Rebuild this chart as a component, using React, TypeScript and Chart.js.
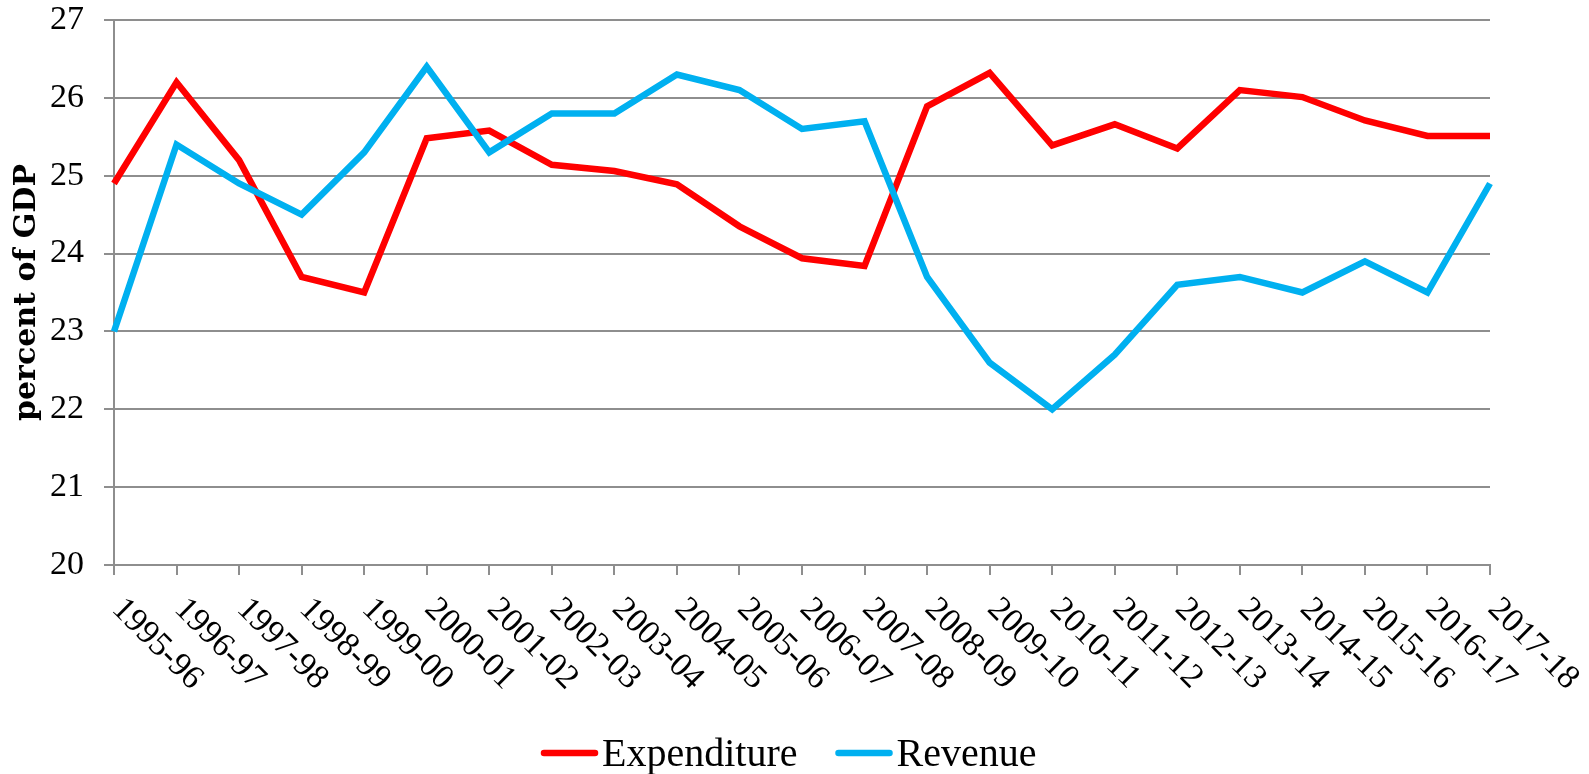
import { useEffect, useRef } from "react";
import { Chart, registerables } from "chart.js";

Chart.register(...registerables);

const categories = [
  "1995-96", "1996-97", "1997-98", "1998-99", "1999-00", "2000-01", "2001-02",
  "2002-03", "2003-04", "2004-05", "2005-06", "2006-07", "2007-08", "2008-09",
  "2009-10", "2010-11", "2011-12", "2012-13", "2013-14", "2014-15", "2015-16",
  "2016-17", "2017-18",
];
const expenditure = [
  24.9, 26.2, 25.2, 23.7, 23.5, 25.48, 25.58, 25.14, 25.06, 24.89, 24.35, 23.94,
  23.84, 25.89, 26.32, 25.39, 25.66, 25.35, 26.1, 26.01, 25.71, 25.51, 25.51,
];
const revenue = [
  23.0, 25.4, 24.9, 24.5, 25.3, 26.4, 25.3, 25.8, 25.8, 26.3, 26.1, 25.6, 25.7,
  23.7, 22.6, 22.0, 22.7, 23.6, 23.7, 23.5, 23.9, 23.5, 24.9,
];
const seriesNames = ["Expenditure", "Revenue"];
const seriesColors = ["#FF0000", "#00B0F0"];
const yMin = 20;
const yMax = 27;
const yStep = 1;
const yTitle = "percent of GDP";

const GRID = "#8e8e8e";

const xLabelPlugin = {
  id: "xLabels",
  afterDraw(chart: any) {
    const xs = chart.scales.x;
    const ctx = chart.ctx;
    ctx.save();
    ctx.font = '34px "Liberation Serif"';
    ctx.fillStyle = "#000";
    ctx.textAlign = "left";
    ctx.textBaseline = "middle";
    categories.forEach((lab, i) => {
      const x = xs.getPixelForTick(i);
      ctx.save();
      ctx.translate(x + 3, xs.top + 39);
      ctx.rotate(Math.PI / 4);
      ctx.fillText(lab, 0, 0);
      ctx.restore();
    });
    ctx.restore();
  },
};

const legendPlugin = {
  id: "manualLegend",
  afterDraw(chart: any) {
    const ctx = chart.ctx;
    ctx.save();
    ctx.font = '40px "Liberation Serif"';
    ctx.textBaseline = "alphabetic";
    ctx.textAlign = "left";
    const lineLen = 57;
    const gapText = 4;
    const gapItems = 38;
    let x = 541;
    const lineY = 753;
    const baseY = 766;
    seriesNames.forEach((name, i) => {
      ctx.strokeStyle = seriesColors[i];
      ctx.lineWidth = 6.5;
      ctx.lineCap = "round";
      ctx.beginPath();
      ctx.moveTo(x + 3, lineY);
      ctx.lineTo(x + lineLen - 3, lineY);
      ctx.stroke();
      ctx.fillStyle = "#000";
      const tx = x + lineLen + gapText;
      ctx.fillText(name, tx, baseY);
      x = tx + ctx.measureText(name).width + gapItems;
    });
    ctx.restore();
  },
};

export default function App() {
  const ref = useRef<HTMLCanvasElement | null>(null);

  useEffect(() => {
    document.body.style.margin = "0";
    const canvas = ref.current;
    if (!canvas) return;
    const chart = new Chart(canvas, {
      type: "line",
      data: {
        labels: categories,
        datasets: [
          {
            label: seriesNames[0],
            data: expenditure,
            borderColor: seriesColors[0],
            backgroundColor: seriesColors[0],
            borderWidth: 6.5,
            pointRadius: 0,
            tension: 0,
            order: 1,
          },
          {
            label: seriesNames[1],
            data: revenue,
            borderColor: seriesColors[1],
            backgroundColor: seriesColors[1],
            borderWidth: 6.5,
            pointRadius: 0,
            tension: 0,
            order: 0,
          },
        ],
      },
      options: {
        responsive: false,
        animation: false,
        devicePixelRatio: 1,
        layout: { padding: { top: 20, right: 99, bottom: 0, left: 0 } },
        plugins: {
          legend: { display: false },
          tooltip: { enabled: false },
          title: { display: false },
        },
        scales: {
          x: {
            type: "category",
            offset: false,
            grid: {
              drawOnChartArea: false,
              drawTicks: true,
              tickLength: 10,
              color: GRID,
              lineWidth: 2,
            },
            border: { display: true, color: GRID, width: 2 },
            ticks: { display: false },
            afterFit(scale: any) {
              scale.height = 209;
              scale.paddingLeft = 0;
              scale.paddingRight = 0;
            },
          },
          y: {
            min: yMin,
            max: yMax,
            grid: {
              color: GRID,
              lineWidth: 2,
              drawTicks: true,
              tickLength: 10,
            },
            border: { display: true, color: GRID, width: 2 },
            ticks: {
              stepSize: yStep,
              padding: 20,
              color: "#000",
              font: { family: '"Liberation Serif"', size: 34 },
            },
            title: {
              display: true,
              text: yTitle,
              color: "#000",
              font: { family: '"DejaVu Serif"', size: 30, weight: "bold" },
              padding: { top: 9, bottom: 0 },
            },
            afterFit(scale: any) {
              scale.width = 114;
              scale.paddingTop = 0;
              scale.paddingBottom = 0;
            },
          },
        },
      },
      plugins: [xLabelPlugin, legendPlugin],
    });
    return () => chart.destroy();
  }, []);

  return <canvas ref={ref} width={1589} height={774} style={{ display: "block" }} />;
}
